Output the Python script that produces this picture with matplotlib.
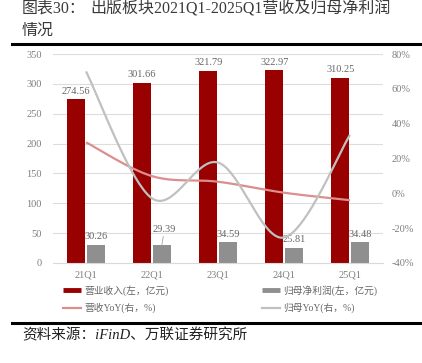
import numpy as np
import matplotlib
matplotlib.use("Agg")
import matplotlib.pyplot as plt
from matplotlib.lines import Line2D

plt.rcParams['font.family'] = ['Liberation Serif', 'Noto Sans CJK SC', 'DejaVu Sans']

categories = ["21Q1", "22Q1", "23Q1", "24Q1", "25Q1"]
revenue = [274.56, 301.66, 321.79, 322.97, 310.25]
profit = [30.26, 29.39, 34.59, 25.81, 34.48]
revenue_yoy = [29.3, 9.87, 6.67, 0.37, -3.94]
profit_yoy = [70.0, -2.88, 17.69, -25.38, 33.59]
left_ticks = [0, 50, 100, 150, 200, 250, 300, 350]
right_ticks = [-40, -20, 0, 20, 40, 60, 80]

RED = "#990000"
GRAY_BAR = "#8F8F8F"
PINK = "#DC8E8E"
GRAY_LINE = "#C0C0C0"
TICK_C = "#7F7F7F"
LBL_C = "#666666"


def smooth(xs, ys, n=40):
    """Excel-style smoothed Bezier curve through the points."""
    P = np.column_stack([xs, ys]).astype(float)
    m = len(P)
    out = []
    for i in range(m - 1):
        p0 = P[i - 1] if i > 0 else P[i]
        p1 = P[i]
        p2 = P[i + 1]
        p3 = P[i + 2] if i + 2 < m else P[i + 1]
        c1 = p1 + (p2 - p0) / 6.0
        c2 = p2 - (p3 - p1) / 6.0
        t = np.linspace(0, 1, n)[:, None]
        seg = ((1 - t) ** 3) * p1 + 3 * ((1 - t) ** 2) * t * c1 + 3 * (1 - t) * t ** 2 * c2 + t ** 3 * p2
        if i > 0:
            seg = seg[1:]
        out.append(seg)
    out = np.vstack(out)
    return out[:, 0], out[:, 1]


W, H = 422, 363
fig = plt.figure(figsize=(W / 100, H / 100), dpi=100)
fig.patch.set_facecolor("white")

ax = fig.add_axes([53 / W, 100 / H, 330 / W, 209 / H])
x = np.arange(len(categories))
bw = 0.28
off = 0.148
ax.bar(x - off, revenue, bw, color=RED, zorder=2)
ax.bar(x + off, profit, bw, color=GRAY_BAR, zorder=2)
ax.set_xlim(-0.5, len(categories) - 0.5)
ax.set_ylim(0, 350)
ax.set_yticks(left_ticks)
ax.set_yticklabels([str(v) for v in left_ticks])
ax.set_xticks(x)
ax.set_xticklabels(categories)
ax.yaxis.grid(True, color="#DDDDDD", lw=0.8, zorder=0)
ax.set_axisbelow(True)
for s in ["top", "left", "right"]:
    ax.spines[s].set_visible(False)
ax.spines["bottom"].set_color("#D9D9D9")
ax.tick_params(axis="y", length=0, pad=8, labelsize=7.5, labelcolor=TICK_C)
ax.tick_params(axis="x", length=0, pad=5.5, labelsize=7.5, labelcolor=TICK_C)

for xi, v in zip(x, revenue):
    ax.annotate(f"{v:.2f}", (xi - off, v), xytext=(0, 2.5), textcoords="offset points",
                ha="center", va="bottom", fontsize=7.5, color=LBL_C, zorder=5)
for i, (xi, v) in enumerate(zip(x, profit)):
    if i == 1:
        ax.annotate(f"{v:.2f}", (xi + off, v), xytext=(2, 8.5), textcoords="offset points",
                    ha="center", va="bottom", fontsize=7.5, color=LBL_C, zorder=5,
                    arrowprops=dict(arrowstyle="-", color="#A6A6A6", lw=0.6, shrinkA=0, shrinkB=0))
    else:
        ax.annotate(f"{v:.2f}", (xi + off, v), xytext=(0, 2.5), textcoords="offset points",
                    ha="center", va="bottom", fontsize=7.5, color=LBL_C, zorder=5)

ax2 = ax.twinx()
ax2.set_ylim(-40, 80)
ax2.set_yticks(right_ticks)
ax2.set_yticklabels([f"{v}%" for v in right_ticks])
for s in ax2.spines.values():
    s.set_visible(False)
ax2.tick_params(axis="y", length=0, pad=6, labelsize=7.5, labelcolor=TICK_C)

sx, sy = smooth(x, revenue_yoy)
ax2.plot(sx, sy, color=PINK, lw=1.6, solid_capstyle="butt")
sx, sy = smooth(x, profit_yoy)
ax2.plot(sx, sy, color=GRAY_LINE, lw=1.6, solid_capstyle="butt")

# legends
h1 = [Line2D([], [], color=RED, lw=3.5, solid_capstyle="butt"),
      Line2D([], [], color=PINK, lw=1.6)]
h2 = [Line2D([], [], color=GRAY_BAR, lw=3.5, solid_capstyle="butt"),
      Line2D([], [], color=GRAY_LINE, lw=1.6)]
lk = dict(frameon=False, fontsize=7, handlelength=1.9, handletextpad=0.25,
          labelspacing=0.75, borderpad=0, borderaxespad=0, labelcolor=LBL_C)
fig.legend(h1, ["营业收入(左，亿元)", "营收YoY(右，%)"], loc="upper left",
           bbox_to_anchor=(63 / W, 1 - 285 / H), **lk)
fig.legend(h2, ["归母净利润(左，亿元)", "归母YoY(右，%)"], loc="upper left",
           bbox_to_anchor=(262 / W, 1 - 285 / H), **lk)

# title and rules
TC = "#3A3A3A"
fig.text(22 / W, 1 - 9 / H, "图表30：", fontsize=11.5, va="center", ha="left", color=TC)
fig.text(90 / W, 1 - 9 / H, "出版板块2021Q1-2025Q1营收及归母净利润",
         fontsize=11.5, va="center", ha="left", color=TC)
fig.text(22 / W, 1 - 31 / H, "情况", fontsize=11.5, va="center", ha="left", color=TC)
fig.add_artist(Line2D([12 / W, 1], [1 - 43.5 / H] * 2, color="black", lw=2.2))
fig.add_artist(Line2D([12 / W, 1], [1 - 323 / H] * 2, color="black", lw=2.2))
fig.text(22 / W, 1 - 335 / H, "资料来源：iFinD、万联证券研究所", fontsize=10.5,
         va="center", ha="left", color="#222222", style="italic")

fig.savefig("out.png", dpi=100, facecolor="white")
